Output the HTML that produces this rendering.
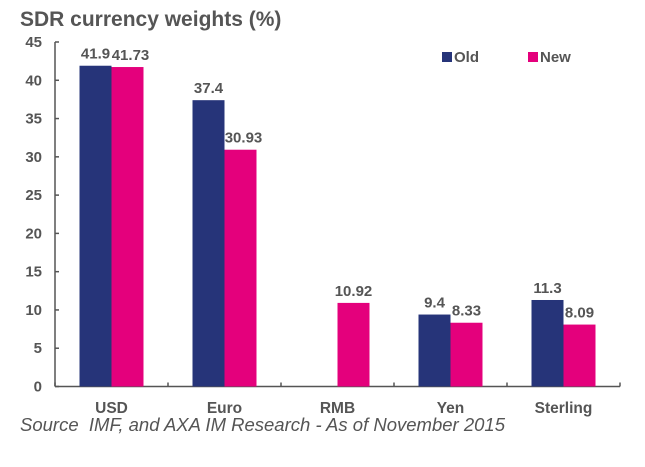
<!DOCTYPE html>
<html><head><meta charset="utf-8"><style>
body{margin:0;background:#fff;font-family:"Liberation Sans",Arial,sans-serif;}
svg text{font-family:"Liberation Sans",Arial,sans-serif;}
</style></head><body>
<svg id="chart" width="645" height="462" xmlns="http://www.w3.org/2000/svg">
<text x="20" y="26" font-size="21" font-weight="bold" fill="#555">SDR currency weights (%)</text>
<g id="axes"></g><g id="bars"></g>
<g>
<rect x="442" y="52" width="10" height="10" fill="#263479"/>
<text x="454" y="62" font-size="15" font-weight="bold" fill="#555">Old</text>
<rect x="528" y="52" width="10" height="10" fill="#e4007c"/>
<text x="540" y="62" font-size="15" font-weight="bold" fill="#555">New</text>
</g>
<text x="20" y="431" font-size="18.5" font-style="italic" fill="#555" xml:space="preserve">Source  IMF, and AXA IM Research - As of November 2015</text>
</svg>
<script>
const categories=["USD","Euro","RMB","Yen","Sterling"];
const oldValues=[41.9,37.4,null,9.4,11.3];
const newValues=[41.73,30.93,10.92,8.33,8.09];
const oldLabels=["41.9","37.4","","9.4","11.3"];
const newLabels=["41.73","30.93","10.92","8.33","8.09"];
const yTicks=[0,5,10,15,20,25,30,35,40,45];
const NS="http://www.w3.org/2000/svg";
const x0=55,step=113,y0=386.5,yMax=45,plotTop=42,bw=32;
const y=v=>y0-(v/yMax)*(y0-plotTop);
const cx=i=>x0+step*(i+0.5);
function mk(t,a,p){const e=document.createElementNS(NS,t);for(const k in a)e.setAttribute(k,a[k]);p.appendChild(e);return e;}
const ax=document.getElementById('axes'),bars=document.getElementById('bars');
let l=mk('line',{x1:x0,y1:plotTop,x2:x0,y2:y0,stroke:'#555','stroke-width':1.5},ax);


l=mk('line',{x1:x0,y1:y0,x2:x0+step*categories.length,y2:y0,stroke:'#555','stroke-width':1.5},ax);


yTicks.forEach(v=>{
 mk('line',{x1:x0,y1:y(v),x2:x0+4,y2:y(v),stroke:'#555','stroke-width':1.5},ax);
 const t=mk('text',{x:42,y:y(v)+5,'font-size':15,'font-weight':'bold',fill:'#555','text-anchor':'end'},ax);
 t.textContent=v;
 
 
});
for(let i=0;i<=categories.length;i++)mk('line',{x1:x0+step*i,y1:y0,x2:x0+step*i,y2:y0-4,stroke:'#555','stroke-width':1.5},ax);
categories.forEach((c,i)=>{
 const t=mk('text',{x:cx(i),y:413,'font-size':15.5,'font-weight':'bold',fill:'#555','text-anchor':'middle'},ax);
 t.textContent=c;
 
 
 [[oldValues,oldLabels,'#263479',-bw,'old'],[newValues,newLabels,'#e4007c',0,'new']].forEach(([vals,labs,col,off,nm])=>{
  const v=vals[i];if(v==null)return;
  const r=mk('rect',{x:cx(i)+off,y:y(v),width:bw,height:y0-y(v),fill:col},bars);
  
  
  const tl=mk('text',{x:cx(i)+off+bw/2+(nm==='new'&&i<2?3:0),y:y(v)-7,'font-size':15,'font-weight':'bold',fill:'#555','text-anchor':'middle'},bars);
  tl.textContent=labs[i];
  
  
 });
});
</script>
</body></html>
